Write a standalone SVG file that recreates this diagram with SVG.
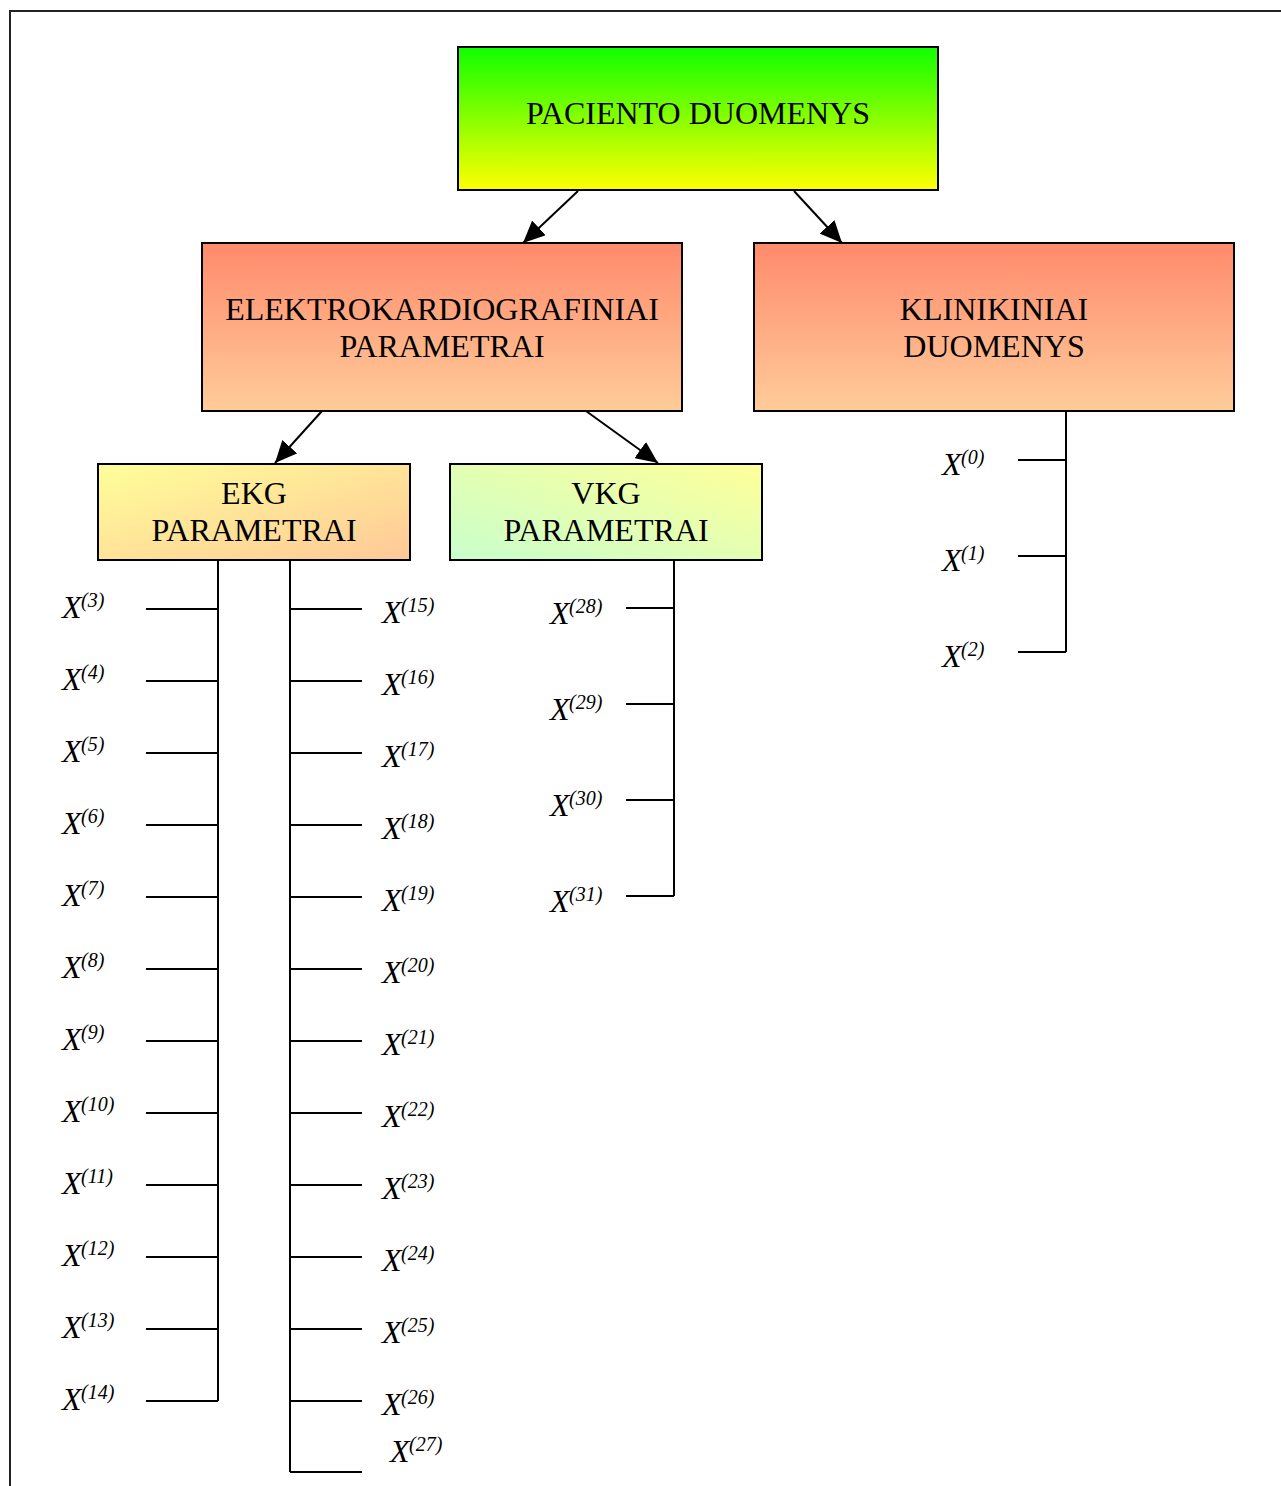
<svg xmlns="http://www.w3.org/2000/svg" width="1281" height="1486" viewBox="0 0 1281 1486">
<defs>
<linearGradient id="gTop" x1="0" y1="0" x2="0" y2="1"><stop offset="0" stop-color="#10ff00"/><stop offset="1" stop-color="#ffff00"/></linearGradient>
<linearGradient id="gMid" x1="0" y1="0" x2="0" y2="1"><stop offset="0" stop-color="#ff8a6c"/><stop offset="1" stop-color="#ffcc99"/></linearGradient>
<linearGradient id="gEkg" x1="0" y1="0" x2="1" y2="1"><stop offset="0" stop-color="#ffff99"/><stop offset="1" stop-color="#ffc898"/></linearGradient>
<linearGradient id="gVkg" x1="0" y1="1" x2="1" y2="0"><stop offset="0" stop-color="#c8ffcc"/><stop offset="1" stop-color="#ffff99"/></linearGradient>
<marker id="arr" markerUnits="userSpaceOnUse" markerWidth="24" markerHeight="20" refX="22" refY="10" orient="auto"><path d="M0,0 L22,10 L0,20 Z" fill="#000"/></marker>
<style>
.box{stroke:#000;stroke-width:2}
.t{font-family:"Liberation Serif","Times New Roman",serif;font-size:32px;fill:#000;text-anchor:middle}
.x{font-family:"Liberation Serif","Times New Roman",serif;font-size:32px;font-style:italic;fill:#000}
.s{font-family:"Liberation Serif","Times New Roman",serif;font-size:20px;font-style:italic;fill:#000}
.ln{stroke:#000;stroke-width:2;fill:none}
</style>
</defs>
<rect width="1281" height="1486" fill="#fff"/>
<path d="M10,1486 L10,11 L1281,11" stroke="#222" stroke-width="2" fill="none"/>

<g id="paciento"><rect class="box" x="458" y="47" width="480" height="143" fill="url(#gTop)"/><text class="t" x="698" y="124">PACIENTO DUOMENYS</text></g>
<g id="elektro"><rect class="box" x="202" y="243" width="480" height="168" fill="url(#gMid)"/><text class="t" x="442" y="320">ELEKTROKARDIOGRAFINIAI</text><text class="t" x="442" y="357">PARAMETRAI</text></g>
<g id="klinikiniai"><rect class="box" x="754" y="243" width="480" height="168" fill="url(#gMid)"/><text class="t" x="994" y="320">KLINIKINIAI</text><text class="t" x="994" y="357">DUOMENYS</text></g>
<g id="ekg"><rect class="box" x="98" y="464" width="312" height="96" fill="url(#gEkg)"/><text class="t" x="254" y="504">EKG</text><text class="t" x="254" y="541">PARAMETRAI</text></g>
<g id="vkg"><rect class="box" x="450" y="464" width="312" height="96" fill="url(#gVkg)"/><text class="t" x="606" y="504">VKG</text><text class="t" x="606" y="541">PARAMETRAI</text></g>

<g id="connectors">
<line class="ln" x1="578" y1="191" x2="523" y2="243" marker-end="url(#arr)"/>
<line class="ln" x1="794" y1="191" x2="842" y2="243" marker-end="url(#arr)"/>
<line class="ln" x1="322" y1="411" x2="275" y2="463" marker-end="url(#arr)"/>
<line class="ln" x1="586" y1="411" x2="658" y2="463" marker-end="url(#arr)"/>
<path class="ln" d="M218,560 V1401 M146,609 H218 M146,681 H218 M146,753 H218 M146,825 H218 M146,897 H218 M146,969 H218 M146,1041 H218 M146,1113 H218 M146,1185 H218 M146,1257 H218 M146,1329 H218 M146,1401 H218"/>
<path class="ln" d="M290,560 V1472 M290,609 H362 M290,681 H362 M290,753 H362 M290,825 H362 M290,897 H362 M290,969 H362 M290,1041 H362 M290,1113 H362 M290,1185 H362 M290,1257 H362 M290,1329 H362 M290,1401 H362 M290,1472 H362"/>
<path class="ln" d="M674,560 V896 M626,608 H674 M626,704 H674 M626,800 H674 M626,896 H674"/>
<path class="ln" d="M1066,411 V652 M1018,460 H1066 M1018,556 H1066 M1018,652 H1066"/>
</g>

<g id="labels-klin">
<text class="x" x="942" y="475">X</text><text class="s" x="961" y="464">(0)</text>
<text class="x" x="942" y="571">X</text><text class="s" x="961" y="560">(1)</text>
<text class="x" x="942" y="667">X</text><text class="s" x="961" y="656">(2)</text>
</g>
<g id="labels-vkg">
<text class="x" x="550" y="624">X</text><text class="s" x="569" y="613">(28)</text>
<text class="x" x="550" y="720">X</text><text class="s" x="569" y="709">(29)</text>
<text class="x" x="550" y="816">X</text><text class="s" x="569" y="805">(30)</text>
<text class="x" x="550" y="912">X</text><text class="s" x="569" y="901">(31)</text>
</g>
<g id="labels-ekg-left">
<text class="x" x="62" y="618">X</text><text class="s" x="81" y="607">(3)</text>
<text class="x" x="62" y="690">X</text><text class="s" x="81" y="679">(4)</text>
<text class="x" x="62" y="762">X</text><text class="s" x="81" y="751">(5)</text>
<text class="x" x="62" y="834">X</text><text class="s" x="81" y="823">(6)</text>
<text class="x" x="62" y="906">X</text><text class="s" x="81" y="895">(7)</text>
<text class="x" x="62" y="978">X</text><text class="s" x="81" y="967">(8)</text>
<text class="x" x="62" y="1050">X</text><text class="s" x="81" y="1039">(9)</text>
<text class="x" x="62" y="1122">X</text><text class="s" x="81" y="1111">(10)</text>
<text class="x" x="62" y="1194">X</text><text class="s" x="81" y="1183">(11)</text>
<text class="x" x="62" y="1266">X</text><text class="s" x="81" y="1255">(12)</text>
<text class="x" x="62" y="1338">X</text><text class="s" x="81" y="1327">(13)</text>
<text class="x" x="62" y="1410">X</text><text class="s" x="81" y="1399">(14)</text>
</g>
<g id="labels-ekg-right">
<text class="x" x="382" y="623">X</text><text class="s" x="401" y="612">(15)</text>
<text class="x" x="382" y="695">X</text><text class="s" x="401" y="684">(16)</text>
<text class="x" x="382" y="767">X</text><text class="s" x="401" y="756">(17)</text>
<text class="x" x="382" y="839">X</text><text class="s" x="401" y="828">(18)</text>
<text class="x" x="382" y="911">X</text><text class="s" x="401" y="900">(19)</text>
<text class="x" x="382" y="983">X</text><text class="s" x="401" y="972">(20)</text>
<text class="x" x="382" y="1055">X</text><text class="s" x="401" y="1044">(21)</text>
<text class="x" x="382" y="1127">X</text><text class="s" x="401" y="1116">(22)</text>
<text class="x" x="382" y="1199">X</text><text class="s" x="401" y="1188">(23)</text>
<text class="x" x="382" y="1271">X</text><text class="s" x="401" y="1260">(24)</text>
<text class="x" x="382" y="1343">X</text><text class="s" x="401" y="1332">(25)</text>
<text class="x" x="382" y="1415">X</text><text class="s" x="401" y="1404">(26)</text>
<text class="x" x="390" y="1462">X</text><text class="s" x="409" y="1451">(27)</text>
</g>
</svg>
